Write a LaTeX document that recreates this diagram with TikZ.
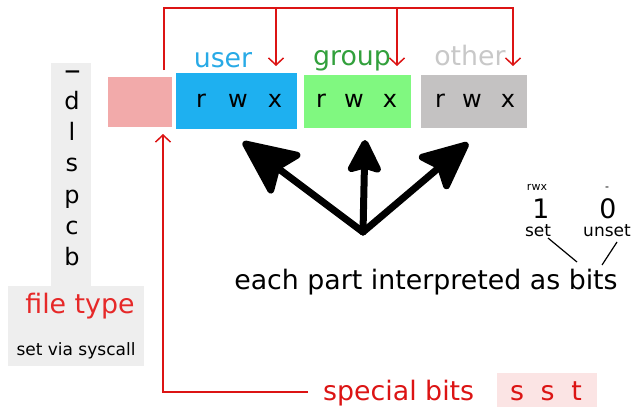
\documentclass[tikz,border=0pt]{standalone}
\usepackage{fontspec}
\usepackage{graphicx}
\setmainfont{DejaVu Sans}
\usetikzlibrary{arrows.meta}
\definecolor{redline}{RGB}{220,20,20}
\definecolor{redtext}{RGB}{230,40,40}
\definecolor{pinkbox}{RGB}{242,170,170}
\definecolor{bluebox}{RGB}{30,176,240}
\definecolor{greenbox}{RGB}{128,248,128}
\definecolor{graybox}{RGB}{196,194,194}
\definecolor{usertext}{RGB}{40,170,230}
\definecolor{grouptext}{RGB}{50,160,60}
\definecolor{othertext}{RGB}{200,200,200}
\definecolor{panel}{RGB}{238,238,238}
\definecolor{sstbox}{RGB}{251,228,228}
\tikzset{
  big/.style={font=\fontsize{26.8}{30}\selectfont, inner sep=0pt, anchor=base},
  mid/.style={font=\fontsize{24}{28}\selectfont, inner sep=0pt, anchor=base},
  small/.style={font=\fontsize{17}{20}\selectfont, inner sep=0pt, anchor=base},
  tiny/.style={font=\fontsize{11}{13}\selectfont, inner sep=0pt, anchor=base},
  redconn/.style={draw=redline, line width=1.5pt},
  redarrow/.style={redconn, -{Straight Barb[length=7pt,width=15pt]}},
  bigarrow/.style={line width=7pt, line cap=round},
  thin/.style={line width=1.2pt},
}
\begin{document}
\begin{tikzpicture}[x=1pt,y=-1pt]
\useasboundingbox (0,0) rectangle (634,407);

% panels
\fill[panel] (51,63) rectangle (91,287);
\fill[panel] (8,286) rectangle (144,366);
\fill[sstbox] (497,373) rectangle (597,407);

% boxes
\node[fill=pinkbox, minimum width=64pt, minimum height=50pt, inner sep=0pt, anchor=north west] (ft) at (108,77) {};
\node[fill=bluebox, minimum width=121pt, minimum height=56pt, inner sep=0pt, anchor=north west] (ub) at (176,73) {};
\node[fill=greenbox, minimum width=107pt, minimum height=53pt, inner sep=0pt, anchor=north west] (gb) at (304,75) {};
\node[fill=graybox, minimum width=106pt, minimum height=53pt, inner sep=0pt, anchor=north west] (ob) at (421,75) {};

% labels above
\node[big, text=usertext] (ul) at (223,67) {user};
\node[big, text=grouptext] (gl) at (352,65) {group};
\node[big, text=othertext] (ol) at (470,65) {other};

% rwx letters
\node[mid] (ur) at (201,107) {r};
\node[mid] (uw) at (238,107) {w};
\node[mid] (ux) at (275,107) {x};
\node[mid] (gr) at (321,107) {r};
\node[mid] (gw) at (354,107) {w};
\node[mid] (gx) at (390,107) {x};
\node[mid] (or) at (440,107) {r};
\node[mid] (ow) at (472,107) {w};
\node[mid] (ox) at (508,107) {x};

% file type letters
\node[mid] (t0) at (73,80) {\scalebox{1.4}[1.3]{–}};
\node[mid] (t1) at (72,109) {d};
\node[mid] (t2) at (72,140) {l};
\node[mid] (t3) at (72,171) {s};
\node[mid] (t4) at (72,203) {p};
\node[mid] (t5) at (72,234) {c};
\node[mid] (t6) at (72,265) {b};
\node[big, text=redtext] (ftl) at (80,313) {file type};
\node[small] (sys) at (76,355) {set via syscall};

% red top connectors
\coordinate (s0) at (164,70);
\coordinate (s1) at (164,8);
\coordinate (c1) at (276,8);
\coordinate (c2) at (397,8);
\coordinate (c3) at (513,8);
\coordinate (e1) at (276,66);
\coordinate (e2) at (397,66);
\coordinate (e3) at (513,66);
\draw[redarrow] (s0) -- (s1) -- (c3) -- (e3);
\draw[redarrow] (c1) -- (e1);
\draw[redarrow] (c2) -- (e2);

% red bottom connector
\node[big, text=redline, anchor=base west] (sb) at (323,400) {special bits};
\node[big, text=redline] (sst) at (546,400) {s\hspace{0.62em}s\hspace{0.62em}t};
\coordinate (b0) at (308,392);
\coordinate (b1) at (163,392);
\coordinate (b2) at (163,134);
\draw[redarrow] (b0) -- (b1) -- (b2);

% black arrows
\coordinate (base) at (363,232);
\coordinate (tl) at (243,142);
\coordinate (tm) at (365,140);
\coordinate (tr) at (468,143);
\draw[bigarrow, -{Stealth[length=62pt,width=56pt,inset=11pt,round]}] (base) -- (tl);
\draw[bigarrow, -{Stealth[length=38pt,width=38pt,inset=5pt,round]}] (base) -- (tm);
\draw[bigarrow, -{Stealth[length=55pt,width=50pt,inset=10pt,round]}] (base) -- (tr);

\node[big] (each) at (426,289) {each part interpreted as bits};

% bits legend
\node[tiny] (rwx) at (537,190) {rwx};
\node[big] (one) at (541,218) {1};
\node[small] (set) at (538,236) {set};
\node[tiny] (dash) at (607,190) {-};
\node[big] (zero) at (608,218) {0};
\node[small] (unset) at (607,236) {unset};
\coordinate (l1a) at (548,238);
\coordinate (l1b) at (577,262);
\coordinate (l2a) at (617,242);
\coordinate (l2b) at (602,265);
\draw[thin] (l1a) -- (l1b);
\draw[thin] (l2a) -- (l2b);
\end{tikzpicture}
\end{document}
